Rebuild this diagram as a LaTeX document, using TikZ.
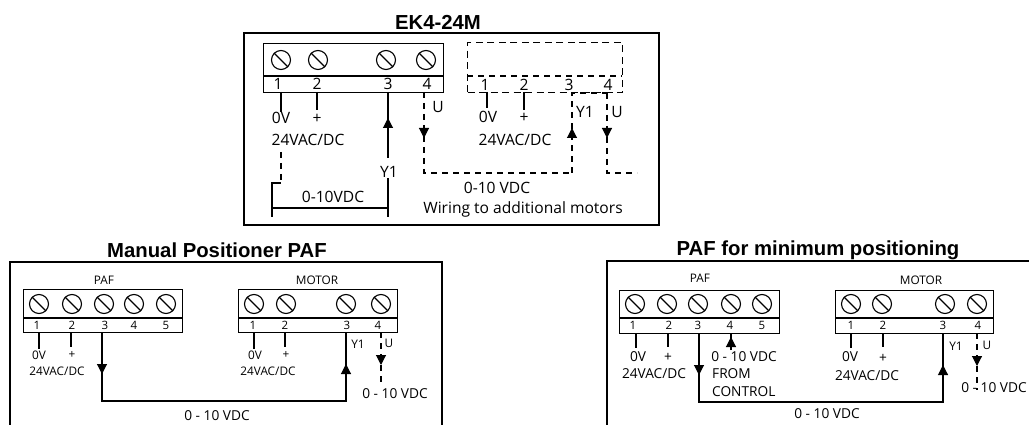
\documentclass[tikz,border=0pt]{standalone}
\usepackage{fontspec}
\setmainfont{Open Sans}
\newfontfamily\titlefont{Liberation Sans}
\usetikzlibrary{arrows.meta, calc}

\tikzset{
  frameline/.style={line width=1.2pt},
  strip/.style={draw, line width=1.2pt, inner sep=0, anchor=north west},
  dashstrip/.style={strip, line width=1.2pt, dash pattern=on 7pt off 4.5pt},
  screw/.style={draw, circle, line width=1.1pt, minimum size=19, inner sep=0},
  wire/.style={line width=1.1pt},
  dashwire/.style={line width=1.1pt, dash pattern=on 6pt off 5pt},
  tipped/.style={-{Triangle[width=10pt, length=10pt]}},
  title/.style={font=\titlefont\bfseries\fontsize{20.3}{22}\selectfont, inner sep=0},
  big/.style={font=\fontsize{15.6}{18}\selectfont, inner sep=0},
  mid/.style={font=\fontsize{13.7}{16}\selectfont, inner sep=0},
  small/.style={font=\fontsize{11.8}{14}\selectfont, inner sep=0},
  tiny/.style={font=\fontsize{11.5}{13}\selectfont, inner sep=0}
}

\begin{document}
\begin{tikzpicture}[x=1pt, y=-1pt]

  \useasboundingbox (0, 0) rectangle (1029, 425);

  % top panel
  \node[title] (ektitle) at (438, 22) {EK4-24M};
  \draw[frameline] (244, 33) rectangle (659, 225);

  \node[strip, minimum width=180, minimum height=49] (ekstrip) at (263, 43) {};
  \draw[line width=1.2pt] (263, 76) -- (443, 76);
  \foreach \x/\nx [count=\n] in {281/278, 318/317, 386/388, 426/427} {
    \node[screw] (eks\n) at (\x, 60) {};
    \draw[line width=1.1pt] (eks\n.north west) -- (eks\n.south east);
    \node[big] (ekn\n) at (\nx, 84) {\n};
  }

  \node[dashstrip, minimum width=155, minimum height=50] (addstrip) at (467, 42) {};
  \draw[dashwire] (467, 76) -- (622, 76);
  \foreach \x [count=\n] in {485, 524, 569, 608} {
    \node[big] (addn\n) at (\x, 85) {\n};
  }

  \node[big] (ekzero) at (281, 118) {0V};
  \node[big] (ekplus) at (317, 119) {+};
  \node[big] (eksupply) at (308, 140) {24VAC/DC};
  \node[big] (ekyone) at (389, 172) {Y1};
  \node[big] (eku) at (438, 107) {U};
  \node[big] (ekrange) at (333, 197) {0-10VDC};
  \node[big] (addzero) at (488, 117) {0V};
  \node[big] (addplus) at (524, 118) {+};
  \node[big] (addsupply) at (515, 140) {24VAC/DC};
  \node[big] (addyone) at (585, 112) {Y1};
  \node[big] (addu) at (617, 112) {U};
  \node[big] (addrange) at (497, 188) {0-10 VDC};
  \node[big] (addnote) at (523, 209) {Wiring to additional motors};

  \coordinate (eka) at (281, 92);
  \coordinate (ekb) at (317, 92);
  \coordinate (ekc) at (388, 92);
  \coordinate (ekd) at (424, 92);
  \coordinate (eke) at (388, 217);
  \coordinate (ekf) at (272, 217);
  \coordinate (ekg) at (281, 152);
  \coordinate (ekh) at (272, 183);
  \coordinate (addaa) at (487, 92);
  \coordinate (addbb) at (524, 92);
  \coordinate (addcc) at (572, 93);
  \coordinate (adddd) at (607, 93);
  \coordinate (addend) at (637, 173);

  \draw[wire] (eka) -- (eka |- 0, 112);
  \draw[wire] (ekb) -- (ekb |- 0, 110);
  \draw[wire] (ekc) -- (ekc |- 0, 158);
  \draw[wire, tipped] (ekc |- 0, 130) -- (ekc |- 0, 118);
  \draw[wire] (eke) -- (ekc |- ekyone.south);
  \draw[wire] (ekf) |- (ekg |- ekh);
  \draw[wire] (ekf |- 0, 208) -- (eke |- 0, 208);
  \draw[dashwire] (ekg) -- (ekg |- ekh);
  \draw[dashwire] (ekd) |- (addcc |- addend);
  \draw[dashwire] (addcc |- addend) -- (addcc) -- (adddd);
  \draw[dashwire] (adddd) |- (addend);
  \draw[wire, tipped] (ekd |- 0, 128) -- (ekd |- 0, 138);
  \draw[wire, tipped] (addcc |- 0, 138) -- (addcc |- 0, 128);
  \draw[wire, tipped] (adddd |- 0, 128) -- (adddd |- 0, 138);
  \draw[wire] (addaa) -- (addaa |- 0, 108);
  \draw[wire] (addbb) -- (addbb |- 0, 110);

  % lower left panel
  \node[title] (mantitle) at (217, 250) {Manual Positioner PAF};
  \draw[frameline] (10, 425) -- (10, 262) -- (442, 262) -- (442, 425);

  \node[small] (manleft) at (104, 280) {PAF};
  \node[small] (manright) at (317, 280) {MOTOR};
  \node[strip, minimum width=159, minimum height=43] (manpaf) at (23, 289) {};
  \node[strip, minimum width=159, minimum height=43] (manmot) at (238, 289) {};
  \draw[line width=1.2pt] (23, 318) -- (182, 318) (238, 318) -- (397, 318);
  \foreach \x/\nx [count=\n] in {39/37, 72/72, 104/105, 134/134, 166/166} {
    \node[screw] (mans\n) at (\x, 304) {};
    \draw[line width=1.1pt] (mans\n.north west) -- (mans\n.south east);
    \node[tiny] (mann\n) at (\nx, 325) {\n};
  }
  \foreach \x/\nx [count=\n] in {254/253, 286/285, 346/347, 381/378} {
    \node[screw] (mots\n) at (\x, 304) {};
    \draw[line width=1.1pt] (mots\n.north west) -- (mots\n.south east);
    \node[tiny] (motn\n) at (\nx, 325) {\n};
  }

  \node[small] (manzero) at (39, 355) {0V};
  \node[small] (manplus) at (72, 355) {+};
  \node[small] (mansupply) at (57, 371) {24VAC/DC};
  \node[small] (motzero) at (255, 355) {0V};
  \node[small] (motplus) at (286, 355) {+};
  \node[small] (motsupply) at (268, 371) {24VAC/DC};
  \node[small] (motyone) at (358, 344) {Y1};
  \node[small] (motu) at (389, 343) {U};
  \node[mid] (motrange) at (395, 394) {0 - 10 VDC};
  \node[mid] (manrange) at (217, 416) {0 - 10 VDC};

  \coordinate (mana) at (39, 332);
  \coordinate (manb) at (71, 332);
  \coordinate (manc) at (102, 332);
  \coordinate (mand) at (254, 332);
  \coordinate (mane) at (285, 332);
  \coordinate (manf) at (346, 332);
  \coordinate (mang) at (381, 332);

  \draw[wire] (mana) -- (mana |- 0, 349);
  \draw[wire] (manb) -- (manb |- 0, 347);
  \draw[wire] (mand) -- (mand |- 0, 349);
  \draw[wire] (mane) -- (mane |- 0, 347);
  \draw[wire] (manc) |- (manf |- 0, 401) -- (manf);
  \draw[wire, tipped] (manc |- 0, 364) -- (manc |- 0, 374);
  \draw[wire, tipped] (manf |- 0, 374) -- (manf |- 0, 364);
  \draw[dashwire] (mang) -- (mang |- 0, 382);
  \draw[wire, tipped] (mang |- 0, 355) -- (mang |- 0, 365);

  % lower right panel
  \node[title] (mintitle) at (818, 250) {PAF for minimum positioning};
  \draw[frameline] (607, 425) -- (607, 261) -- (1029, 261);

  \node[small] (minleft) at (700, 278) {PAF};
  \node[small] (minright) at (921, 280) {MOTOR};
  \node[strip, minimum width=160, minimum height=43] (minpaf) at (619, 290) {};
  \node[strip, minimum width=158, minimum height=43] (minmot) at (835, 290) {};
  \draw[line width=1.2pt] (619, 318) -- (779, 318) (835, 318) -- (993, 318);
  \foreach \x/\nx [count=\n] in {635/633, 667/669, 698/698, 731/730, 762/762} {
    \node[screw] (mins\n) at (\x, 304) {};
    \draw[line width=1.1pt] (mins\n.north west) -- (mins\n.south east);
    \node[tiny] (minn\n) at (\nx, 325) {\n};
  }
  \foreach \x/\nx [count=\n] in {851/851, 882/883, 945/943, 977/978} {
    \node[screw] (mms\n) at (\x, 304) {};
    \draw[line width=1.1pt] (mms\n.north west) -- (mms\n.south east);
    \node[tiny] (mmn\n) at (\nx, 325) {\n};
  }

  \node[mid] (minzero) at (638, 357) {0V};
  \node[mid] (minplus) at (668, 357) {+};
  \node[mid] (minsupply) at (654, 374) {24VAC/DC};
  \node[mid] (mincontrol) at (744, 357) {0 - 10 VDC};
  \node[mid, anchor=west] (minfrom) at (712, 374) {FROM};
  \node[mid, anchor=west] (minctrl) at (712, 392) {CONTROL};
  \node[mid] (mmzero) at (850, 357) {0V};
  \node[mid] (mmplus) at (883, 358) {+};
  \node[mid] (mmsupply) at (867, 376) {24VAC/DC};
  \node[small] (mmyone) at (956, 346) {Y1};
  \node[small] (mmu) at (987, 345) {U};
  \node[mid] (mmrange) at (994, 388) {0 - 10 VDC};
  \node[mid] (minrange) at (827, 414) {0 - 10 VDC};

  \coordinate (mina) at (636, 333);
  \coordinate (minb) at (668, 333);
  \coordinate (minc) at (699, 333);
  \coordinate (mind) at (731, 333);
  \coordinate (mine) at (851, 333);
  \coordinate (minf) at (883, 333);
  \coordinate (ming) at (943, 333);
  \coordinate (minh) at (977, 333);

  \draw[wire] (mina) -- (mina |- 0, 348);
  \draw[wire] (minb) -- (minb |- 0, 347);
  \draw[wire] (mine) -- (mine |- 0, 348);
  \draw[wire] (minf) -- (minf |- 0, 347);
  \draw[wire, tipped] (mind |- 0, 350) -- (mind |- 0, 337);
  \draw[wire] (mind |- 0, 340) -- (mind);
  \draw[wire] (minc) |- (ming |- 0, 402) -- (ming);
  \draw[wire, tipped] (minc |- 0, 365) -- (minc |- 0, 375);
  \draw[wire, tipped] (ming |- 0, 375) -- (ming |- 0, 365);
  \draw[dashwire] (minh) -- (minh |- 0, 390);
  \draw[wire, tipped] (minh |- 0, 356) -- (minh |- 0, 366);

\end{tikzpicture}
\end{document}
